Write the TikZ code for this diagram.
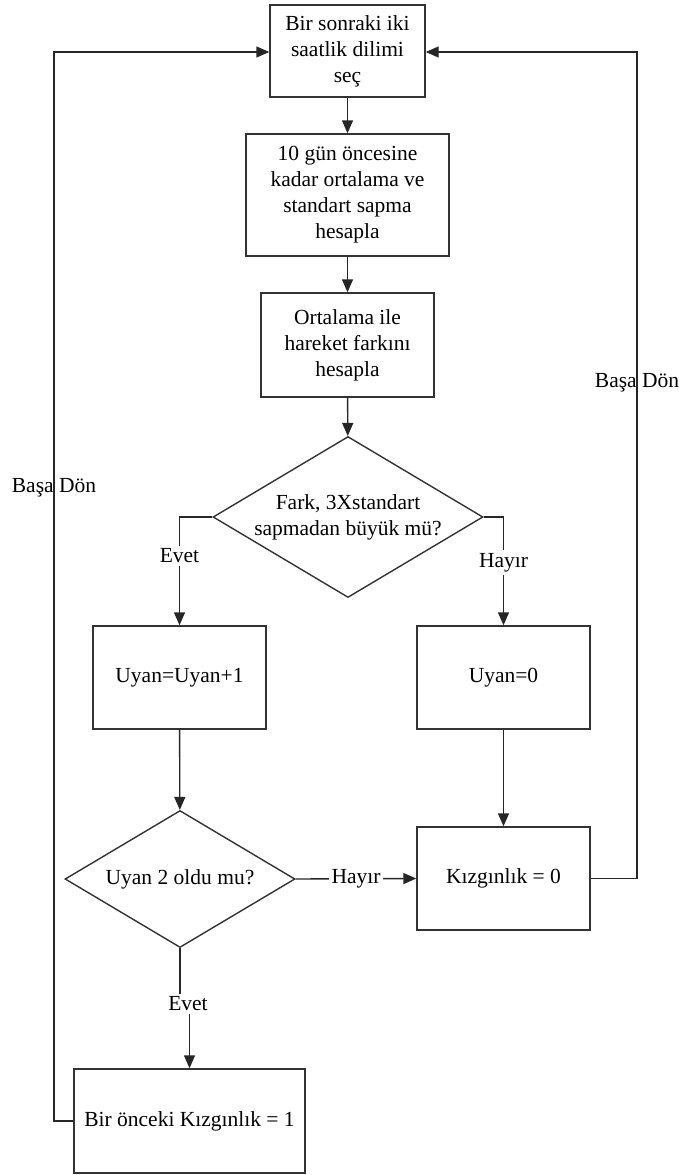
\documentclass[tikz,border=0pt]{standalone}
\usepackage{fontspec}
\setmainfont{Liberation Serif}
\usetikzlibrary{arrows.meta,shapes.geometric}
\tikzset{
  stepbox/.style={draw=black!80, line width=1.4pt, rectangle, inner sep=0pt, align=center,
    font=\fontsize{21.5}{26}\selectfont},
  decision/.style={draw=black!80, line width=1.4pt, diamond, inner sep=0pt},
  dtext/.style={inner sep=0pt, align=center, font=\fontsize{21.5}{26}\selectfont},
  lab/.style={fill=white, inner sep=3pt, font=\fontsize{21.5}{26}\selectfont},
  freelab/.style={inner sep=0pt, font=\fontsize{21.5}{26}\selectfont},
  link/.style={draw=black!85, line width=1.4pt},
  arr/.style={link, -{Triangle[length=13pt,width=11pt]}}
}
\begin{document}
\begin{tikzpicture}[x=1pt, y=-1pt]
\useasboundingbox (0,0) rectangle (678,1175);

% process steps
\node[stepbox, minimum width=155pt, minimum height=92pt] (b1) at (347.5,51)
  {Bir sonraki iki\\saatlik dilimi\\seç};
\node[stepbox, minimum width=203pt, minimum height=122pt] (b2) at (347.5,195)
  {10 gün öncesine\\kadar ortalama ve\\standart sapma\\hesapla};
\node[stepbox, minimum width=173pt, minimum height=104pt] (b3) at (347.5,345)
  {Ortalama ile\\hareket farkını\\hesapla};

% first decision
\node[decision, minimum width=270pt, minimum height=161pt] (d1) at (348,517) {};
\node[dtext] (d1t) at (d1.center) {Fark, 3Xstandart\\sapmadan büyük mü?};

\node[stepbox, minimum width=173pt, minimum height=103pt] (b4) at (179.5,677.5) {Uyan=Uyan+1};
\node[stepbox, minimum width=173pt, minimum height=103pt] (b5) at (503.5,677.5) {Uyan=0};

% second decision
\node[decision, minimum width=230pt, minimum height=137pt] (d2) at (180,879) {};
\node[dtext] (d2t) at (d2.center) {Uyan 2 oldu mu?};

\node[stepbox, minimum width=173pt, minimum height=103pt] (b6) at (503.5,878.5) {Kızgınlık = 0};
\node[stepbox, minimum width=231pt, minimum height=104pt] (b7) at (189.5,1121) {Bir önceki Kızgınlık = 1};

% main flow
\draw[arr] (b1) -- (b2);
\draw[arr] (b2) -- (b3);
\draw[arr] (b3) -- (d1);
\draw[arr] (d1.west) -| node[lab, pos=0.68] (e1) {Evet} (b4.north);
\draw[arr] (d1.east) -| node[lab, pos=0.71] (h1) {Hayır} (b5.north);
\draw[arr] (b4) -- (d2);
\draw[arr] (b5) -- (b6);
\draw[arr] (d2.east) -- node[lab] (h2) {Hayır} (b6.west);

% yes branch of the second decision
\node[lab] (e2) at (188,1004) {Evet};
\draw[link] (d2.south) -- (d2.south |- e2.north);
\draw[arr] (e2.south -| b7.north) -- (b7.north);

% loops back to the start
\coordinate (lc) at (54,52);
\coordinate (rc) at (637,52);
\draw[arr] (b7.west) -- (b7.west -| lc) -- (lc) -- (b1.west |- lc);
\draw[arr] (b6.east) -- (b6.east -| rc) -- (rc) -- (b1.east |- rc);
\node[freelab] (bl) at (54,488) {Başa Dön};
\node[freelab] (br) at (637,383) {Başa Dön};
\end{tikzpicture}
\end{document}
